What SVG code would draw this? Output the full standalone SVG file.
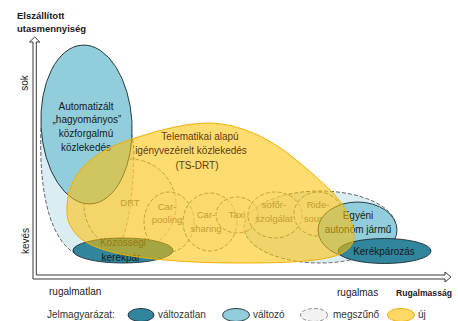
<svg xmlns="http://www.w3.org/2000/svg" width="458" height="321" viewBox="0 0 458 321">
<style>
text{font-family:"Liberation Sans",Arial,sans-serif;font-size:10px;fill:#1a1a1a}
.b{font-weight:bold;font-size:9.5px}
.c{text-anchor:middle}
.g{fill:#707070;font-size:9.5px;text-anchor:middle}
.dash{fill:#f2f2f2;fill-opacity:.5;stroke:#606060;stroke-width:.8;stroke-dasharray:4 2}
.pale{fill:#daedf3;stroke:#404040;stroke-width:.8;stroke-dasharray:4 2}
.teal{fill:#31859c;stroke:#1c2c34;stroke-width:.9}
.lb{fill:#92cddc;stroke:#1c2c34;stroke-width:.9}
.yel{fill:#ffc000;fill-opacity:.56;stroke:#f2b000;stroke-width:1}
.yt{fill:#5c3d12;text-anchor:middle}
.lg{fill:#333}
</style>
<rect width="458" height="321" fill="#ffffff"/>

<g id="axes">
  <path d="M33,279 L33,42 L29.5,42 L34.7,37 L39.8,42 L36.3,42 L36.3,275 L445,275 L445,272 L451,277 L445,282 L445,279 Z" fill="#ffffff" stroke="#222" stroke-width="0.9" stroke-linejoin="miter"/>
  <text class="b" x="17" y="19">Elszállított</text>
  <text class="b" x="17" y="32">utasmennyiség</text>
  <text transform="translate(28,83) rotate(-90)" class="c">sok</text>
  <text transform="translate(29,241) rotate(-90)" class="c">kevés</text>
  <text x="49" y="295">rugalmatlan</text>
  <text x="337" y="296">rugalmas</text>
  <text class="b" x="396" y="296" font-size="9" textLength="56" lengthAdjust="spacingAndGlyphs">Rugalmasság</text>
</g>

<g id="megszuno-regions">
  <path class="pale" d="M41,128 C39,180 46,230 70,250 C85,262 112,258 120,245 C128,230 133,195 134,155 C134,125 120,100 100,95 Z"/>
  <ellipse class="pale" cx="320" cy="227" rx="76" ry="36"/>
</g>

<g id="drt">
  <circle class="dash" cx="130" cy="205" r="46"/>
  <text class="g" x="130" y="206">DRT</text>
</g>
<g id="carpooling">
  <ellipse class="dash" cx="169" cy="222" rx="25" ry="30"/>
  <text class="g" x="167" y="210">Car-</text>
  <text class="g" x="167" y="223">pooling</text>
</g>
<g id="carsharing">
  <ellipse class="dash" cx="210" cy="222" rx="27" ry="29"/>
  <text class="g" x="206" y="218">Car-</text>
  <text class="g" x="206" y="232">sharing</text>
</g>
<g id="taxi">
  <ellipse class="dash" cx="237" cy="215" rx="21" ry="18"/>
  <text class="g" x="237" y="218">Taxi</text>
</g>
<g id="soforszolgalat">
  <ellipse class="dash" cx="275" cy="215" rx="27" ry="23"/>
  <text class="g" x="274" y="208">sofőr-</text>
  <text class="g" x="274" y="222">szolgálat</text>
</g>
<g id="ridesource">
  <ellipse class="dash" cx="318" cy="214" rx="24" ry="22"/>
  <text class="g" x="318" y="208">Ride-</text>
  <text class="g" x="318" y="222">source</text>
</g>

<g id="automatizalt">
  <ellipse class="lb" cx="86.5" cy="124.5" rx="45.5" ry="79.5" transform="rotate(-3 86.5 124.5)"/>
  <text class="c" x="86" y="110">Automatizált</text>
  <text class="c" x="87" y="123">„hagyományos”</text>
  <text class="c" x="86" y="137">közforgalmú</text>
  <text class="c" x="86" y="151">közlekedés</text>
</g>

<g id="kozossegi-kerekpar">
  <ellipse class="teal" cx="123" cy="250.5" rx="50" ry="12.5"/>
  <text class="c" x="123" y="246">Közösségi</text>
  <text class="c" x="121" y="261">kerékpár</text>
</g>

<g id="egyeni-autonom">
  <ellipse class="lb" cx="357.5" cy="230" rx="39.5" ry="28"/>
  <text class="c" x="358" y="219">Egyéni</text>
  <text class="c" x="358" y="233">autonóm jármű</text>
</g>

<g id="kerekparozas">
  <ellipse class="teal" cx="384.5" cy="251" rx="46.5" ry="12.5"/>
  <text class="c" x="384" y="255">Kerékpározás</text>
</g>

<g id="ts-drt">
  <path class="yel" d="M67,212 C66,195 72,178 84,166 C98,152 115,144 135,138 C160,130 185,123 210,123 C240,124 268,138 290,155 C305,167 318,178 332,192 C343,204 350,215 353,228 C356,240 353,250 335,256 C315,262 280,263 240,263 C200,263 160,261 125,255 C100,250 86,244 78,236 C71,229 67,221 67,212 Z"/>
  <text class="yt" x="200" y="140">Telematikai alapú</text>
  <text class="yt" x="191" y="154">igényvezérelt közlekedés</text>
  <text class="yt" x="197" y="169">(TS-DRT)</text>
</g>

<g id="legend">
  <text class="lg" x="47" y="318">Jelmagyarázat:</text>
  <ellipse class="teal" cx="141" cy="315" rx="13" ry="6.5"/>
  <text class="lg" x="158" y="318">változatlan</text>
  <ellipse class="lb" cx="236" cy="315" rx="13.5" ry="6.5"/>
  <text class="lg" x="253" y="318">változó</text>
  <ellipse cx="314" cy="315" rx="13.5" ry="6.5" fill="#f2f2f2" stroke="#777" stroke-width="0.8" stroke-dasharray="4 2"/>
  <text class="lg" x="333" y="318">megszűnő</text>
  <ellipse cx="401" cy="315" rx="13.5" ry="6.5" fill="#ffd966" stroke="#e6a800" stroke-width="0.9"/>
  <text class="lg" x="418" y="318">új</text>
</g>
</svg>
